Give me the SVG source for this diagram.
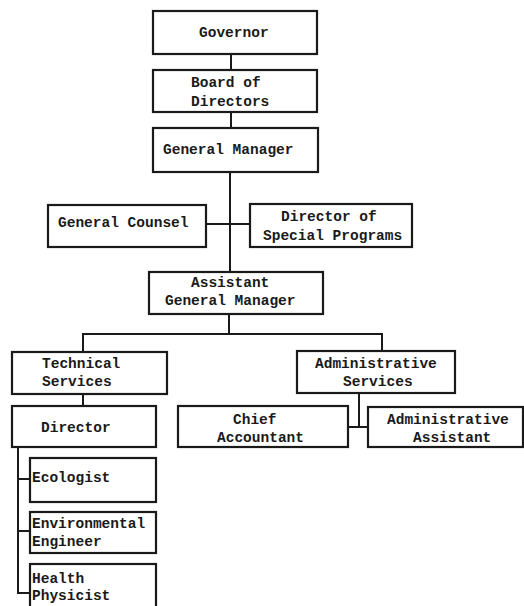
<svg xmlns="http://www.w3.org/2000/svg" width="524" height="606" viewBox="0 0 524 606">
<style>
rect.b{fill:#fff;stroke:#1a1a1a;stroke-width:2.2}
text{font-family:"Liberation Mono","Courier New",monospace;font-weight:bold;font-size:14.5px;fill:#1a1a1a}
.c line{stroke:#1a1a1a;stroke-width:2}
</style>
<rect width="524" height="606" fill="#fff"/>
<g class="c" id="connectors">
<line x1="231" y1="54" x2="231" y2="70"/>
<line x1="231" y1="112" x2="231" y2="128"/>
<line x1="230" y1="172" x2="230" y2="272"/>
<line x1="206" y1="224" x2="250" y2="224"/>
<line x1="229" y1="314" x2="229" y2="334"/>
<line x1="83" y1="334" x2="382" y2="334"/>
<line x1="83" y1="333" x2="83" y2="352"/>
<line x1="382" y1="333" x2="382" y2="351"/>
<line x1="83" y1="394" x2="83" y2="406"/>
<line x1="359" y1="393" x2="359" y2="427"/>
<line x1="348" y1="427" x2="368" y2="427"/>
<line x1="18" y1="447" x2="18" y2="593"/>
<line x1="17" y1="479" x2="30" y2="479"/>
<line x1="17" y1="531" x2="30" y2="531"/>
<line x1="17" y1="593" x2="30" y2="593"/>
</g>
<g id="governor"><rect class="b" x="153" y="11" width="164" height="43"/><text x="199" y="37">Governor</text></g>
<g id="board"><rect class="b" x="153" y="70" width="164" height="42"/><text x="191" y="87">Board of</text><text x="191" y="106">Directors</text></g>
<g id="gm"><rect class="b" x="153" y="128" width="165" height="44"/><text x="163" y="154">General Manager</text></g>
<g id="counsel"><rect class="b" x="48" y="205" width="158" height="42"/><text x="58" y="227">General Counsel</text></g>
<g id="special"><rect class="b" x="250" y="204" width="162" height="43"/><text x="281" y="221">Director of</text><text x="263" y="240">Special Programs</text></g>
<g id="agm"><rect class="b" x="149" y="272" width="174" height="42"/><text x="191" y="287">Assistant</text><text x="165" y="305">General Manager</text></g>
<g id="tech"><rect class="b" x="12" y="352" width="155" height="42"/><text x="42" y="368">Technical</text><text x="42" y="386">Services</text></g>
<g id="admin"><rect class="b" x="297" y="351" width="158" height="42"/><text x="315" y="368">Administrative</text><text x="343" y="386">Services</text></g>
<g id="director"><rect class="b" x="12" y="406" width="144" height="41"/><text x="41" y="432">Director</text></g>
<g id="chief"><rect class="b" x="178" y="406" width="170" height="41"/><text x="233" y="424">Chief</text><text x="217" y="442">Accountant</text></g>
<g id="adminasst"><rect class="b" x="368" y="407" width="155" height="40"/><text x="387" y="424">Administrative</text><text x="413" y="442">Assistant</text></g>
<g id="ecologist"><rect class="b" x="30" y="458" width="126" height="44"/><text x="32" y="482">Ecologist</text></g>
<g id="engineer"><rect class="b" x="30" y="512" width="126" height="41"/><text x="32" y="528">Environmental</text><text x="32" y="546">Engineer</text></g>
<g id="physicist"><rect class="b" x="30" y="564" width="126" height="50"/><text x="32" y="583">Health</text><text x="32" y="600">Physicist</text></g>
</svg>
